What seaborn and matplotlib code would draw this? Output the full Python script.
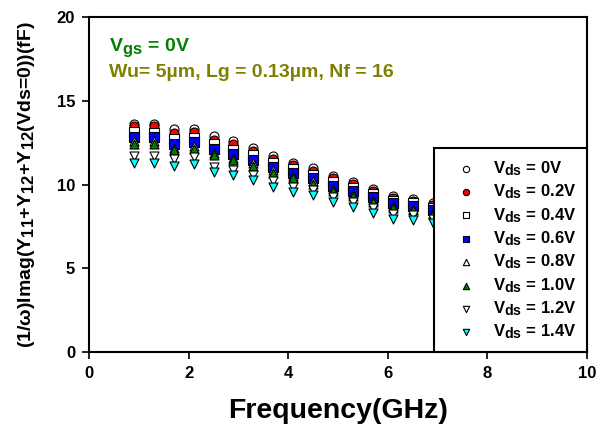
import numpy as np
import pandas as pd
import matplotlib
matplotlib.use('Agg')
import matplotlib.pyplot as plt
import matplotlib._mathtext as mtext
import seaborn as sns

# 数据
freq = [0.9, 1.3, 1.7, 2.1, 2.5, 2.9, 3.3, 3.7, 4.1, 4.5, 4.9, 5.3, 5.7, 6.1, 6.5, 6.9]
vds_labels = ['0V', '0.2V', '0.4V', '0.6V', '0.8V', '1.0V', '1.2V', '1.4V']
c_vds00 = [13.62, 13.65, 13.30, 13.33, 12.90, 12.58, 12.20, 11.72, 11.32, 11.00, 10.52, 10.17, 9.75, 9.35, 9.17, 8.90]
c_vds02 = [13.50, 13.48, 13.10, 13.12, 12.68, 12.40, 12.02, 11.55, 11.15, 10.83, 10.37, 10.02, 9.60, 9.22, 9.03, 8.78]
c_vds04 = [13.12, 13.10, 12.72, 12.80, 12.42, 12.10, 11.75, 11.30, 10.92, 10.60, 10.15, 9.82, 9.42, 9.05, 8.88, 8.62]
c_vds06 = [12.86, 12.86, 12.45, 12.54, 12.15, 11.85, 11.50, 11.07, 10.70, 10.40, 9.95, 9.62, 9.25, 8.88, 8.72, 8.48]
c_vds08 = [12.60, 12.58, 12.20, 12.30, 11.92, 11.62, 11.27, 10.85, 10.50, 10.20, 9.76, 9.45, 9.08, 8.72, 8.57, 8.33]
c_vds10 = [12.45, 12.45, 12.08, 12.15, 11.78, 11.48, 11.13, 10.72, 10.37, 10.07, 9.65, 9.35, 8.98, 8.63, 8.48, 8.25]
c_vds12 = [11.72, 11.74, 11.55, 11.65, 11.05, 10.88, 10.60, 10.20, 9.86, 9.66, 9.26, 8.97, 8.60, 8.27, 8.20, 7.98]
c_vds14 = [11.30, 11.32, 11.12, 11.22, 10.73, 10.55, 10.27, 9.87, 9.55, 9.37, 8.97, 8.68, 8.32, 7.98, 7.92, 7.72]

series = [c_vds00, c_vds02, c_vds04, c_vds06, c_vds08, c_vds10, c_vds12, c_vds14]
markers = ['o', 'o', 's', 's', '^', '^', 'v', 'v']
face_colors = ['white', 'red', 'white', 'blue', 'white', 'green', 'white', 'cyan']

sns.set_style('ticks')
plt.rcParams['font.family'] = ['Liberation Sans', 'DejaVu Sans']
plt.rcParams['font.weight'] = 'bold'
plt.rcParams['text.color'] = 'black'
plt.rcParams['axes.labelcolor'] = 'black'
plt.rcParams['mathtext.fontset'] = 'custom'
plt.rcParams['mathtext.rm'] = 'Liberation Sans:bold'
plt.rcParams['mathtext.bf'] = 'Liberation Sans:bold'
plt.rcParams['mathtext.default'] = 'bf'
# 下标字号接近正文 (原图风格)
mtext.SHRINK_FACTOR = 0.85

fig = plt.figure(figsize=(6.1, 4.3), dpi=100)
ax = fig.add_axes([0.146, 0.181, 0.816, 0.779])

for vals, mk, fc, lab in zip(series, markers, face_colors, vds_labels):
    df = pd.DataFrame({'f': freq, 'c': vals})
    sns.scatterplot(data=df, x='f', y='c', marker=mk, color=fc, edgecolor='black',
                    linewidth=0.8, s=42, ax=ax, label=r'V$_{ds}$ = ' + lab)

ax.set_xlim(0, 10)
ax.set_ylim(0, 20)
ax.set_xticks([0, 2, 4, 6, 8, 10])
ax.set_yticks([0, 5, 10, 15, 20])
ax.tick_params(direction='out', length=5, width=1.2, labelsize=12, colors='black', pad=5)
for lbl in ax.get_xticklabels() + ax.get_yticklabels():
    lbl.set_fontweight('bold')
for sp in ax.spines.values():
    sp.set_linewidth(1.5)
    sp.set_color('black')

ax.set_xlabel('Frequency(GHz)', fontsize=20.5, fontweight='bold', labelpad=12)
ax.set_ylabel(r'(1/ω)Imag(Y$_{11}$+Y$_{12}$+Y$_{12}$(Vds=0))(fF)', fontsize=14,
              fontweight='bold', labelpad=14)

ax.text(0.04, 0.91, r'V$_{gs}$ = 0V', transform=ax.transAxes, color='#008000',
        fontsize=14, fontweight='bold', va='center')
ax.text(0.04, 0.835, 'Wu= 5µm, Lg = 0.13µm, Nf = 16', transform=ax.transAxes,
        color='#808000', fontsize=14, fontweight='bold', va='center')

leg = ax.legend(loc='lower right', borderaxespad=0, fontsize=12, markerscale=0.7,
                frameon=True, fancybox=False, handletextpad=0.3, labelspacing=0.28,
                borderpad=0.65, handlelength=2.6)
leg.get_frame().set_edgecolor('black')
leg.get_frame().set_linewidth(1.5)
leg.get_frame().set_alpha(1)

fig.savefig('out.png', dpi=100)
